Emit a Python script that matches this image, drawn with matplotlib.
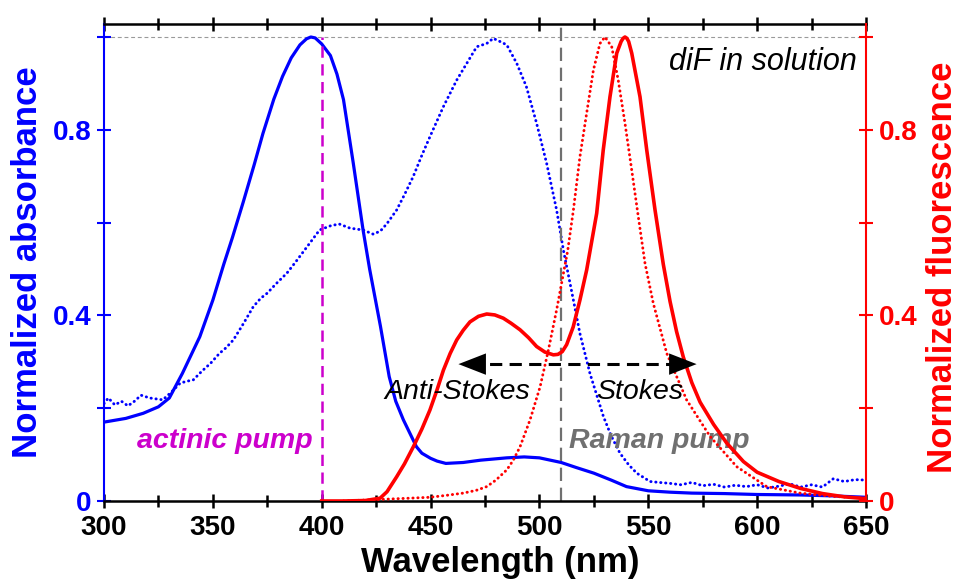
import matplotlib
matplotlib.use("Agg")
import matplotlib.pyplot as plt
from matplotlib.ticker import MultipleLocator, FixedLocator, FixedFormatter

# absorbance, solid (blue)
abs_x = [300, 310, 318, 325, 330, 336, 344, 350, 355, 359, 364, 369, 373, 378,
         382, 386, 390, 393, 395, 397, 400, 404, 407, 410, 414.5, 419, 422,
         427, 431, 434, 437.5, 443.5, 446, 450, 453, 457, 465, 473, 485, 493,
         500, 505, 510, 517, 525, 533, 540, 550, 560, 570, 585, 600, 620, 635,
         650]
abs_y = [0.17, 0.178, 0.189, 0.203, 0.222, 0.275, 0.354, 0.433, 0.51, 0.568,
         0.645, 0.725, 0.792, 0.866, 0.915, 0.955, 0.983, 0.996, 1.0, 0.998,
         0.985, 0.96, 0.92, 0.865, 0.728, 0.584, 0.50, 0.376, 0.268, 0.215,
         0.175, 0.117, 0.103, 0.092, 0.086, 0.081, 0.083, 0.088, 0.093, 0.095,
         0.093, 0.088, 0.083, 0.072, 0.060, 0.045, 0.031, 0.022, 0.019, 0.017,
         0.016, 0.014, 0.013, 0.011, 0.008]

# absorbance, dotted (blue)
abs2_x = [300, 302, 305, 308, 311, 314, 317, 321, 324, 327, 331, 335, 338, 341,
          345, 349, 353, 356, 359.4, 364, 368.6, 372, 375, 379, 384, 388, 392,
          396, 399, 404, 408, 413, 419, 423.7, 427, 430, 434.4, 438, 442, 446,
          449.7, 455.9, 462, 466.6, 471.2, 475.8, 478.8, 482, 485, 489.6, 494,
          498.7, 503.3, 507.9, 511, 515.6, 518.6, 523.2, 529.4, 533, 537, 541,
          544.7, 550.8, 555, 560, 565, 570, 575, 580, 585, 590, 595, 600, 605,
          610, 615, 620, 625, 630, 635, 640, 645, 650]
abs2_y = [0.21, 0.222, 0.207, 0.215, 0.205, 0.215, 0.228, 0.222, 0.22, 0.218,
          0.235, 0.254, 0.258, 0.261, 0.28, 0.297, 0.318, 0.33, 0.347, 0.382,
          0.419, 0.437, 0.448, 0.468, 0.491, 0.515, 0.54, 0.565, 0.584, 0.593,
          0.597, 0.588, 0.584, 0.575, 0.582, 0.598, 0.627, 0.66, 0.699, 0.745,
          0.785, 0.85, 0.907, 0.943, 0.979, 0.986, 0.997, 0.99, 0.983, 0.943,
          0.893, 0.814, 0.728, 0.627, 0.541, 0.433, 0.361, 0.275, 0.182, 0.14,
          0.103, 0.078, 0.060, 0.042, 0.04, 0.038, 0.035, 0.04, 0.033, 0.036,
          0.03, 0.034, 0.031, 0.035, 0.028, 0.032, 0.037, 0.03, 0.035, 0.03,
          0.048, 0.042, 0.046, 0.045]

# fluorescence, solid (red)
fl_x = [400, 410, 420, 426.8, 430, 434.4, 438, 442.1, 446, 449.7, 453, 455.9,
        459, 462, 465, 468.1, 472, 475.8, 479.5, 483.4, 487, 491.1, 495, 498.7,
        502.5, 506.4, 508.5, 510.5, 512.5, 515.5, 518.6, 521.7, 526.3, 529.3,
        532.4, 535.5, 537.5, 538.4, 539.3, 540.2, 541, 542.4, 546.2, 549.3,
        553.1, 556.9, 560, 563, 566.1, 570, 573.8, 580, 586, 593.7, 600, 610,
        620, 630, 640, 650]
fl_y = [0, 0, 0.001, 0.006, 0.02, 0.052, 0.08, 0.117, 0.155, 0.196, 0.24,
        0.282, 0.318, 0.347, 0.368, 0.386, 0.398, 0.403, 0.401, 0.394, 0.383,
        0.369, 0.352, 0.333, 0.321, 0.315, 0.316, 0.322, 0.337, 0.375, 0.433,
        0.498, 0.62, 0.756, 0.871, 0.965, 0.99, 0.997, 1.0, 0.997, 0.99,
        0.965, 0.871, 0.756, 0.627, 0.51, 0.43, 0.365, 0.31, 0.255, 0.213,
        0.165, 0.125, 0.085, 0.062, 0.042, 0.027, 0.016, 0.009, 0.005]

# fluorescence, dotted (red)
fl2_x = [410, 420, 430, 440, 449.7, 457, 465, 471, 475.8, 480, 485, 488,
         491.1, 495.7, 500.3, 504.1, 507.9, 511, 513, 515.6, 518.6, 521.7,
         524.8, 527.8, 530.1, 533.2, 536.2, 539.3, 542.4, 545.4, 548.5, 552.3,
         558.5, 567.6, 578.4, 590.6, 604.4, 619.7, 635, 650]
fl2_y = [0, 0.002, 0.004, 0.006, 0.008, 0.012, 0.017, 0.023, 0.031, 0.045,
         0.067, 0.088, 0.117, 0.175, 0.246, 0.325, 0.412, 0.49, 0.54, 0.627,
         0.742, 0.836, 0.929, 0.986, 1.0, 0.979, 0.907, 0.814, 0.713, 0.613,
         0.512, 0.426, 0.318, 0.218, 0.139, 0.074, 0.031, 0.017, 0.01, 0.006]

actinic_nm = 400
raman_nm = 510
ymax = 1.028

plt.rcParams['font.family'] = ['Liberation Sans', 'DejaVu Sans']

fig = plt.figure(figsize=(9.61, 5.83), dpi=100)
ax = fig.add_axes([104 / 961, 1 - 501 / 583, 762 / 961, 477 / 583])
ax2 = ax.twinx()

blue = '#0000ff'
red = '#ff0000'
mag = '#cc00cc'
grey = '#707070'
dots = (0, (0.1, 1.6))

ax.plot(abs2_x, abs2_y, color=blue, lw=2.1, ls=dots, dash_capstyle='round')
ax.plot(abs_x, abs_y, color=blue, lw=2.3)
ax2.plot(fl2_x, fl2_y, color=red, lw=2.1, ls=dots, dash_capstyle='round')
ax2.plot(fl_x, fl_y, color=red, lw=2.6)

# reference lines
ax.axhline(1.0, color='#9a9a9a', lw=0.8, ls=(0, (3.5, 2.5)), zorder=0)
ax.plot([actinic_nm, actinic_nm], [0, 1.0], color=mag, lw=1.8,
        ls=(0, (4.5, 2.6)))
ax.plot([raman_nm, raman_nm], [0, ymax], color=grey, lw=1.6,
        ls=(0, (6, 3)))

# Stokes / anti-Stokes arrow
ax2.plot([468, 567], [0.295, 0.295], color='k', lw=2.2, ls=(0, (4, 2.4)))
for tip, tail in [(462.8, 471), (572.2, 564)]:
    ax2.annotate('', xy=(tip, 0.295), xytext=(tail, 0.295),
                 arrowprops=dict(arrowstyle='-|>,head_length=0.9,head_width=0.35',
                                 color='k', lw=0, shrinkA=0, shrinkB=0,
                                 mutation_scale=22))

ax2.text(429, 0.219, 'Anti-Stokes', fontsize=20.5, style='italic',
         ha='left', va='baseline')
ax2.text(526.3, 0.219, 'Stokes', fontsize=20.5, style='italic',
         ha='left', va='baseline')
ax2.text(645.8, 0.929, 'diF in solution', fontsize=22, style='italic',
         ha='right', va='baseline')
ax.text(396, 0.114, 'actinic pump', fontsize=20.5, style='italic',
        weight='bold', color=mag, ha='right', va='baseline')
ax.text(513.5, 0.114, 'Raman pump', fontsize=20.5, style='italic',
        weight='bold', color=grey, ha='left', va='baseline')

ax.set_xlim(300, 650)
ax.set_ylim(0, ymax)
ax2.set_ylim(0, ymax)

ax.xaxis.set_major_locator(MultipleLocator(50))
ax.xaxis.set_minor_locator(MultipleLocator(25))
yt = [0, 0.2, 0.4, 0.6, 0.8, 1.0]
ylabs = ['0', '', '0.4', '', '0.8', '']
for a in (ax, ax2):
    a.yaxis.set_major_locator(FixedLocator(yt))
    a.yaxis.set_major_formatter(FixedFormatter(ylabs))

ax.tick_params(axis='x', which='both', direction='inout', top=True,
               width=1.8, colors='k', labelsize=20, pad=5)
ax.tick_params(axis='x', which='major', length=10)
ax.tick_params(axis='x', which='minor', length=8)
ax.tick_params(axis='y', direction='inout', length=10, width=1.5,
               colors=blue, labelsize=20, pad=4)
ax2.tick_params(axis='y', direction='inout', length=10, width=1.5,
                colors=red, labelsize=20, pad=4)
for lab in ax.get_xticklabels() + ax.get_yticklabels() + ax2.get_yticklabels():
    lab.set_fontweight('bold')

ax.spines['left'].set_color(blue)
ax.spines['left'].set_linewidth(1.5)
ax.spines['right'].set_visible(False)
ax.spines['top'].set_linewidth(1.8)
ax.spines['bottom'].set_linewidth(1.8)
ax2.spines['right'].set_color(red)
ax2.spines['right'].set_linewidth(1.5)
for s in ('left', 'top', 'bottom'):
    ax2.spines[s].set_visible(False)

ax.set_xlabel('Wavelength (nm)', fontsize=25, weight='bold')
ax.xaxis.set_label_coords(0.52, -0.128)
ax.xaxis.label.set_va('center')
ax.set_ylabel('Normalized absorbance', fontsize=25, weight='bold', color=blue)
ax.yaxis.set_label_coords(-0.101, 0.5)
ax.yaxis.label.set_va('center')
ax2.set_ylabel('Normalized fluorescence', fontsize=25, weight='bold',
               color=red, rotation=90)
ax2.yaxis.set_label_coords(1.101, 0.49)
ax2.yaxis.label.set_va('center')

fig.savefig('out.png', dpi=100)
